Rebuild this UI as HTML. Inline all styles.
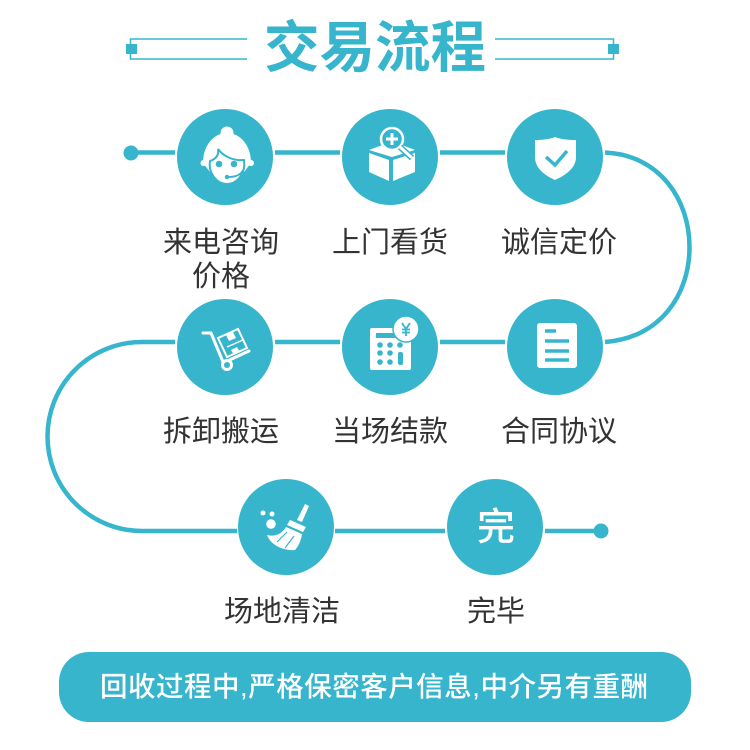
<!DOCTYPE html>
<html><head><meta charset="utf-8"><style>
html,body{margin:0;padding:0;background:#fff;width:750px;height:750px;overflow:hidden}
svg{display:block}
text{font-family:"Liberation Sans","Noto Sans CJK SC",sans-serif}
</style></head><body>
<svg width="750" height="750" viewBox="0 0 750 750" xmlns="http://www.w3.org/2000/svg">
<rect width="750" height="750" fill="#fff"/>
<!-- title -->
<text x="375" y="67" text-anchor="middle" font-size="55.5" font-weight="700" fill="#36b5cc">交易流程</text>
<path d="M247 39H130.500V59H247M495 39H613.500V59H495" fill="none" stroke="#36b5cc" stroke-width="1.500"/>
<rect x="126" y="44" width="11" height="10" fill="#36b5cc"/>
<rect x="608" y="44" width="11" height="10" fill="#36b5cc"/>
<!-- connectors -->
<g fill="none" stroke="#36b5cc" stroke-width="4.500">
<path d="M131 152.500H175M275 152.500H340M440 152.500H505"/>
<path d="M605 152.500C660 155 689.500 200 689.500 247C689.500 295 660 338 605 342"/>
<path d="M505 342H440M340 342H275M175 342H142A94.500 94.500 0 0 0 142 531H237"/>
<path d="M335 531H445M545 531H601"/>
</g>
<circle cx="131" cy="153" r="7.500" fill="#36b5cc"/>
<circle cx="601" cy="531" r="7.500" fill="#36b5cc"/>
<!-- circles -->
<g fill="#36b5cc">
<circle cx="225" cy="157" r="48"/><circle cx="390" cy="157" r="48"/><circle cx="555" cy="157" r="48"/>
<circle cx="225" cy="347" r="48"/><circle cx="390" cy="347" r="48"/><circle cx="555" cy="347" r="48"/>
<circle cx="286" cy="527" r="48"/><circle cx="495" cy="527" r="48"/>
</g>
<!-- agent icon -->
<g>
<circle cx="227" cy="133" r="6.500" fill="#fff"/>
<path d="M203 163C203 145 214 133 227 133C240 133 251 145 251 163L244 172H210Z" fill="#fff"/>
<circle cx="203.500" cy="163" r="3" fill="#fff"/>
<circle cx="251" cy="163" r="3" fill="#fff"/>
<path d="M210 161C216 159 219 155 218 149C224 157 234 161 244 160C246 172 238 184 227 184C216 184 208 172 210 161Z" fill="#fff" stroke="#36b5cc" stroke-width="2"/>
<circle cx="219" cy="164" r="3.300" fill="#36b5cc"/>
<circle cx="234" cy="164" r="3.300" fill="#36b5cc"/>
<path d="M243 170C241 175 236 177 228 177" fill="none" stroke="#36b5cc" stroke-width="1.800"/>
<circle cx="227" cy="177" r="2.200" fill="#36b5cc"/>
</g>
<!-- box icon -->
<g fill="#fff">
<path d="M369 150L385 144H399L415 150L392 157Z"/>
<path d="M369 153L389 160V181L369 172Z"/>
<path d="M393 160L415 153V172L393 181Z"/>
<circle cx="392" cy="139" r="11" fill="#36b5cc" stroke="#fff" stroke-width="2.500"/>
<path d="M390.500 133H393.500V137.500H398V140.500H393.500V145H390.500V140.500H386V137.500H390.500Z"/>
<path d="M400 147L412 158" stroke="#36b5cc" stroke-width="6" fill="none"/>
<path d="M400 147L411 157" stroke="#fff" stroke-width="3" fill="none" stroke-linecap="round"/>
</g>
<!-- shield icon -->
<path d="M535 140C543 140 550 139 555 137C560 139 567 140 576 140V157C576 168 566 175 555 180C544 175 535 168 535 157Z" fill="#fff"/>
<path d="M546 157L555 165L567 151" fill="none" stroke="#36b5cc" stroke-width="3.500"/>
<!-- cart icon -->
<g>
<path d="M203 333H211L223 362" fill="none" stroke="#fff" stroke-width="3" stroke-linecap="round"/>
<path d="M223 363L249 351" fill="none" stroke="#fff" stroke-width="3" stroke-linecap="round"/>
<circle cx="227" cy="365" r="4.500" fill="#36b5cc" stroke="#fff" stroke-width="3"/>
<path d="M218 338L238 329L247 348L227 357Z" fill="none" stroke="#fff" stroke-width="2"/>
<path d="M226 335L233 332L236 338L229 341Z" fill="#fff"/>
<path d="M231 350L237 347L240 352L234 355Z" fill="#fff"/>
<path d="M227 347L243 340" stroke="#fff" stroke-width="1.500"/>
</g>
<!-- calculator icon -->
<g>
<rect x="370" y="328" width="41" height="42" rx="2" fill="#fff"/>
<rect x="376" y="333" width="28" height="5" fill="#36b5cc"/>
<g fill="#36b5cc">
<circle cx="380" cy="345" r="2.800"/><circle cx="390" cy="345" r="2.800"/><circle cx="400" cy="345" r="2.800"/>
<circle cx="380" cy="353" r="2.800"/><circle cx="390" cy="353" r="2.800"/>
<circle cx="380" cy="362" r="2.800"/><circle cx="390" cy="362" r="2.800"/>
<rect x="398" y="352" width="5" height="13" rx="2"/>
</g>
<circle cx="406" cy="329" r="13" fill="#fff" stroke="#36b5cc" stroke-width="1.500"/>
<path d="M402 323L406 329L410 323M406 329V336M402 329.500H410M402 332.500H410" fill="none" stroke="#36b5cc" stroke-width="1.800"/>
</g>
<!-- document icon -->
<path d="M539 323H575L577 325V366L575 368H539L537 366V325Z" fill="#fff"/>
<path d="M545 331H556M545 341H569M545 351H569M545 360H569" stroke="#36b5cc" stroke-width="3.500" fill="none"/>
<!-- broom icon -->
<g fill="#fff">
<circle cx="263" cy="513" r="2.500"/><circle cx="272" cy="514" r="2.500"/><circle cx="271" cy="524" r="4.800"/>
<path d="M305 504L309 506L302 522L297 520Z"/>
<path d="M290 520L306 527L303 532L287 525Z"/>
<path d="M286 527L302 534C301 541 298 547 295 550C285 551 271 546 267 535C275 537 282 534 286 527Z"/>
<path d="M277 542L287 532M285 548L294 536" stroke="#36b5cc" stroke-width="1.200" fill="none"/>
</g>
<!-- 完 -->
<text x="496" y="540" text-anchor="middle" font-size="38" font-weight="500" fill="#fff">完</text>
<!-- labels -->
<g font-size="29" fill="#333" text-anchor="middle">
<text x="221" y="252">来电咨询</text>
<text x="221" y="286">价格</text>
<text x="390" y="252">上门看货</text>
<text x="559" y="252">诚信定价</text>
<text x="221" y="441">拆卸搬运</text>
<text x="390" y="441">当场结款</text>
<text x="559" y="441">合同协议</text>
<text x="282" y="621">场地清洁</text>
<text x="496" y="621">完毕</text>
</g>
<!-- bottom bar -->
<rect x="59" y="652" width="632" height="70" rx="30" fill="#36b5cc"/>
<text x="374" y="696" text-anchor="middle" font-size="27.500" font-weight="500" fill="#fff" textLength="548" lengthAdjust="spacing">回收过程中,严格保密客户信息,中介另有重酬</text>
</svg>
</body></html>
